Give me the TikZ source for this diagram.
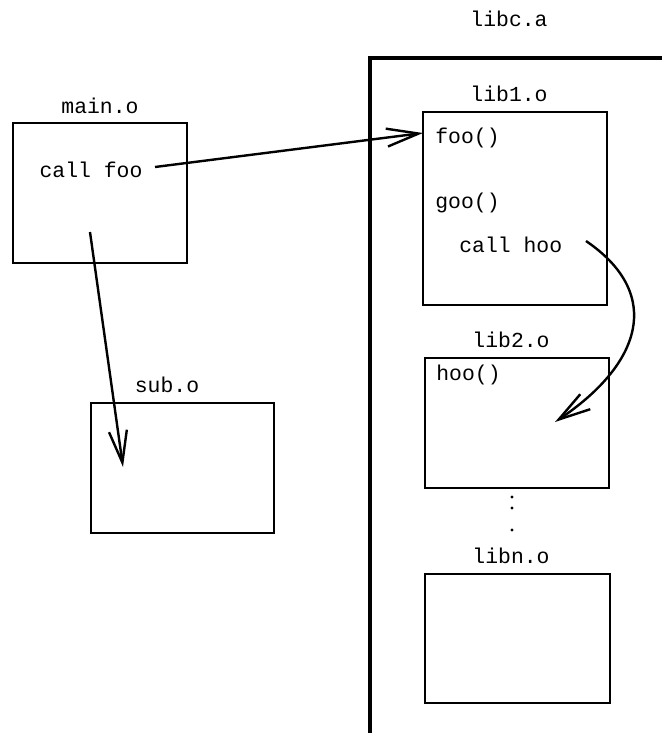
\documentclass[tikz,border=0pt]{standalone}
\usepackage{fontspec}
\setmonofont{Liberation Mono}
\usetikzlibrary{arrows.meta}
\tikzset{
	objline/.style={line width=0.9pt},
	ftext/.style={inner sep=0pt, text height=7pt, text depth=2pt, font=\ttfamily\fontsize{10.7}{12}\selectfont},
	callarrow/.style={line width=1.2pt, -{Straight Barb[length=16pt,width=9pt]}},
}
\begin{document}
\begin{tikzpicture}[x=0.5pt,y=-0.5pt]
		\useasboundingbox (0,0) rectangle (662,733);
		% ARCHIVE
		\draw[line width=2.2pt] (370,733) -- (370,58) -- (662,58);
		\node[ftext] (libc) at (509,22) {libc.a};
		
		% OBJECT FILES
		\draw[objline] (13,123) rectangle (187,263) node (main) [pos=0.5] {};
		\draw[objline] (91,403) rectangle (274,533) node (sub) [pos=0.5] {};
		\draw[objline] (423,112) rectangle (607,305) node (lib1) [pos=0.5] {};
		\draw[objline] (425,358) rectangle (609,488) node (lib2) [pos=0.5] {};
		\draw[objline] (425,574) rectangle (610,703) node (libn) [pos=0.5] {};
		\node[ftext] (mainlbl) at (100,108) {main.o};
		\node[ftext] (sublbl) at (167,387) {sub.o};
		\node[ftext] (lib1lbl) at (509,97) {lib1.o};
		\node[ftext] (lib2lbl) at (511,342) {lib2.o};
		\node[ftext] (libnlbl) at (511,558) {libn.o};
		
		% CONTENTS
		\node[ftext] (callfoo) at (91,172) {call foo};
		\node[ftext, anchor=west] (foo) at (435,138) {foo()};
		\node[ftext, anchor=west] (goo) at (435,203) {goo()};
		\node[ftext, anchor=west] (callhoo) at (459,247) {call hoo};
		\node[ftext, anchor=west] (hoo) at (436,375) {hoo()};
		\fill (512,497) circle (0.8pt);
		\fill (512,508) circle (0.8pt);
		\fill (512,530) circle (0.8pt);
		
		% ARROWS
		\coordinate (foofrom) at (155,167);
		\coordinate (footo) at (423,133);
		\coordinate (subfrom) at (90,232);
		\coordinate (subto) at (123,467);
		\coordinate (hoofrom) at (586,241);
		\coordinate (hooto) at (555,422);
		\draw[callarrow] (foofrom) -- (footo);
		\draw[callarrow] (subfrom) -- (subto);
		\draw[callarrow] (hoofrom) .. controls (665,295) and (640,365) .. (hooto);
	\end{tikzpicture}
\end{document}
